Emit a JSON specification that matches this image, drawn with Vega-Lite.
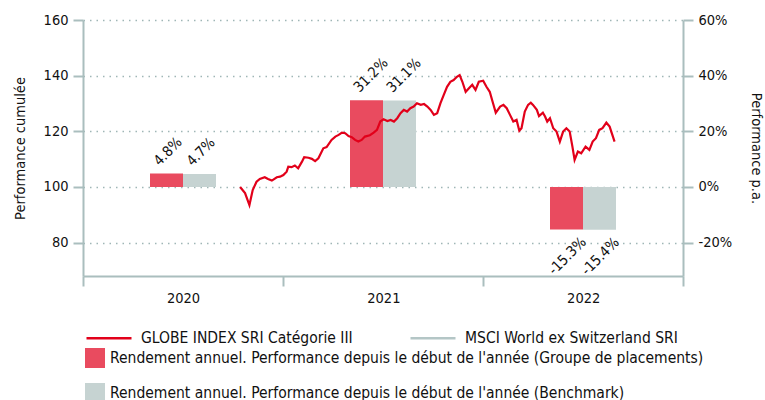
{
  "$schema": "https://vega.github.io/schema/vega-lite/v6.json",
  "width": 600,
  "height": 256,
  "autosize": {"type": "none"},
  "padding": {"left": 83, "top": 20, "right": 82, "bottom": 124},
  "config": {
    "font": "DejaVu Sans Condensed",
    "view": {"stroke": null},
    "axis": {
      "domainColor": "#aabebe",
      "domainWidth": 2,
      "tickColor": "#aabebe",
      "tickWidth": 2,
      "tickSize": 10,
      "labelFontSize": 14.5,
      "labelColor": "#111111",
      "titleFontSize": 14.5,
      "titleFontWeight": "normal",
      "titleColor": "#111111",
      "labelPadding": 5
    },
    "legend": {"labelFontSize": 15.5, "labelColor": "#111111", "labelLimit": 1000}
  },
  "datasets": {
    "bars": [
      {"year": "2020", "series": "Rendement annuel. Performance depuis le début de l'année (Groupe de placements)", "perf": 4.8, "label": "4.8%"},
      {"year": "2020", "series": "Rendement annuel. Performance depuis le début de l'année (Benchmark)", "perf": 4.7, "label": "4.7%"},
      {"year": "2021", "series": "Rendement annuel. Performance depuis le début de l'année (Groupe de placements)", "perf": 31.2, "label": "31.2%"},
      {"year": "2021", "series": "Rendement annuel. Performance depuis le début de l'année (Benchmark)", "perf": 31.1, "label": "31.1%"},
      {"year": "2022", "series": "Rendement annuel. Performance depuis le début de l'année (Groupe de placements)", "perf": -15.3, "label": "-15.3%"},
      {"year": "2022", "series": "Rendement annuel. Performance depuis le début de l'année (Benchmark)", "perf": -15.4, "label": "-15.4%"}
    ],
    "line": [
      {"date": "2020-10-14", "value": 100.0, "series": "GLOBE INDEX SRI Catégorie III"},
      {"date": "2020-10-23", "value": 97.8, "series": "GLOBE INDEX SRI Catégorie III"},
      {"date": "2020-10-31", "value": 93.5, "series": "GLOBE INDEX SRI Catégorie III"},
      {"date": "2020-11-06", "value": 98.9, "series": "GLOBE INDEX SRI Catégorie III"},
      {"date": "2020-11-13", "value": 101.9, "series": "GLOBE INDEX SRI Catégorie III"},
      {"date": "2020-11-19", "value": 102.9, "series": "GLOBE INDEX SRI Catégorie III"},
      {"date": "2020-11-28", "value": 103.5, "series": "GLOBE INDEX SRI Catégorie III"},
      {"date": "2020-12-04", "value": 102.9, "series": "GLOBE INDEX SRI Catégorie III"},
      {"date": "2020-12-11", "value": 102.3, "series": "GLOBE INDEX SRI Catégorie III"},
      {"date": "2020-12-20", "value": 103.5, "series": "GLOBE INDEX SRI Catégorie III"},
      {"date": "2020-12-26", "value": 103.7, "series": "GLOBE INDEX SRI Catégorie III"},
      {"date": "2021-01-01", "value": 104.3, "series": "GLOBE INDEX SRI Catégorie III"},
      {"date": "2021-01-07", "value": 105.5, "series": "GLOBE INDEX SRI Catégorie III"},
      {"date": "2021-01-10", "value": 107.3, "series": "GLOBE INDEX SRI Catégorie III"},
      {"date": "2021-01-16", "value": 107.1, "series": "GLOBE INDEX SRI Catégorie III"},
      {"date": "2021-01-22", "value": 107.7, "series": "GLOBE INDEX SRI Catégorie III"},
      {"date": "2021-01-28", "value": 106.7, "series": "GLOBE INDEX SRI Catégorie III"},
      {"date": "2021-02-04", "value": 109.1, "series": "GLOBE INDEX SRI Catégorie III"},
      {"date": "2021-02-08", "value": 110.7, "series": "GLOBE INDEX SRI Catégorie III"},
      {"date": "2021-02-16", "value": 110.5, "series": "GLOBE INDEX SRI Catégorie III"},
      {"date": "2021-02-22", "value": 110.1, "series": "GLOBE INDEX SRI Catégorie III"},
      {"date": "2021-02-28", "value": 109.3, "series": "GLOBE INDEX SRI Catégorie III"},
      {"date": "2021-03-06", "value": 110.3, "series": "GLOBE INDEX SRI Catégorie III"},
      {"date": "2021-03-15", "value": 113.9, "series": "GLOBE INDEX SRI Catégorie III"},
      {"date": "2021-03-21", "value": 114.3, "series": "GLOBE INDEX SRI Catégorie III"},
      {"date": "2021-03-30", "value": 116.9, "series": "GLOBE INDEX SRI Catégorie III"},
      {"date": "2021-04-06", "value": 118.1, "series": "GLOBE INDEX SRI Catégorie III"},
      {"date": "2021-04-12", "value": 118.7, "series": "GLOBE INDEX SRI Catégorie III"},
      {"date": "2021-04-18", "value": 119.5, "series": "GLOBE INDEX SRI Catégorie III"},
      {"date": "2021-04-24", "value": 119.3, "series": "GLOBE INDEX SRI Catégorie III"},
      {"date": "2021-04-30", "value": 118.3, "series": "GLOBE INDEX SRI Catégorie III"},
      {"date": "2021-05-06", "value": 117.9, "series": "GLOBE INDEX SRI Catégorie III"},
      {"date": "2021-05-12", "value": 116.9, "series": "GLOBE INDEX SRI Catégorie III"},
      {"date": "2021-05-18", "value": 116.3, "series": "GLOBE INDEX SRI Catégorie III"},
      {"date": "2021-05-24", "value": 116.9, "series": "GLOBE INDEX SRI Catégorie III"},
      {"date": "2021-05-30", "value": 118.1, "series": "GLOBE INDEX SRI Catégorie III"},
      {"date": "2021-06-08", "value": 118.6, "series": "GLOBE INDEX SRI Catégorie III"},
      {"date": "2021-06-15", "value": 119.5, "series": "GLOBE INDEX SRI Catégorie III"},
      {"date": "2021-06-21", "value": 120.5, "series": "GLOBE INDEX SRI Catégorie III"},
      {"date": "2021-06-27", "value": 123.5, "series": "GLOBE INDEX SRI Catégorie III"},
      {"date": "2021-07-03", "value": 124.3, "series": "GLOBE INDEX SRI Catégorie III"},
      {"date": "2021-07-10", "value": 123.7, "series": "GLOBE INDEX SRI Catégorie III"},
      {"date": "2021-07-16", "value": 124.1, "series": "GLOBE INDEX SRI Catégorie III"},
      {"date": "2021-07-22", "value": 123.5, "series": "GLOBE INDEX SRI Catégorie III"},
      {"date": "2021-07-28", "value": 124.7, "series": "GLOBE INDEX SRI Catégorie III"},
      {"date": "2021-08-03", "value": 126.5, "series": "GLOBE INDEX SRI Catégorie III"},
      {"date": "2021-08-09", "value": 127.7, "series": "GLOBE INDEX SRI Catégorie III"},
      {"date": "2021-08-15", "value": 127.1, "series": "GLOBE INDEX SRI Catégorie III"},
      {"date": "2021-08-21", "value": 128.3, "series": "GLOBE INDEX SRI Catégorie III"},
      {"date": "2021-08-27", "value": 128.9, "series": "GLOBE INDEX SRI Catégorie III"},
      {"date": "2021-09-02", "value": 130.1, "series": "GLOBE INDEX SRI Catégorie III"},
      {"date": "2021-09-09", "value": 129.5, "series": "GLOBE INDEX SRI Catégorie III"},
      {"date": "2021-09-15", "value": 129.8, "series": "GLOBE INDEX SRI Catégorie III"},
      {"date": "2021-09-21", "value": 128.9, "series": "GLOBE INDEX SRI Catégorie III"},
      {"date": "2021-09-27", "value": 127.7, "series": "GLOBE INDEX SRI Catégorie III"},
      {"date": "2021-10-03", "value": 125.9, "series": "GLOBE INDEX SRI Catégorie III"},
      {"date": "2021-10-09", "value": 126.5, "series": "GLOBE INDEX SRI Catégorie III"},
      {"date": "2021-10-15", "value": 130.1, "series": "GLOBE INDEX SRI Catégorie III"},
      {"date": "2021-10-21", "value": 133.1, "series": "GLOBE INDEX SRI Catégorie III"},
      {"date": "2021-10-27", "value": 136.0, "series": "GLOBE INDEX SRI Catégorie III"},
      {"date": "2021-11-02", "value": 137.8, "series": "GLOBE INDEX SRI Catégorie III"},
      {"date": "2021-11-08", "value": 138.4, "series": "GLOBE INDEX SRI Catégorie III"},
      {"date": "2021-11-14", "value": 139.6, "series": "GLOBE INDEX SRI Catégorie III"},
      {"date": "2021-11-19", "value": 140.2, "series": "GLOBE INDEX SRI Catégorie III"},
      {"date": "2021-11-24", "value": 137.8, "series": "GLOBE INDEX SRI Catégorie III"},
      {"date": "2021-11-30", "value": 134.2, "series": "GLOBE INDEX SRI Catégorie III"},
      {"date": "2021-12-06", "value": 135.5, "series": "GLOBE INDEX SRI Catégorie III"},
      {"date": "2021-12-12", "value": 136.7, "series": "GLOBE INDEX SRI Catégorie III"},
      {"date": "2021-12-18", "value": 134.9, "series": "GLOBE INDEX SRI Catégorie III"},
      {"date": "2021-12-24", "value": 137.8, "series": "GLOBE INDEX SRI Catégorie III"},
      {"date": "2022-01-01", "value": 138.2, "series": "GLOBE INDEX SRI Catégorie III"},
      {"date": "2022-01-07", "value": 136.0, "series": "GLOBE INDEX SRI Catégorie III"},
      {"date": "2022-01-13", "value": 134.2, "series": "GLOBE INDEX SRI Catégorie III"},
      {"date": "2022-01-19", "value": 130.1, "series": "GLOBE INDEX SRI Catégorie III"},
      {"date": "2022-01-24", "value": 126.7, "series": "GLOBE INDEX SRI Catégorie III"},
      {"date": "2022-02-01", "value": 128.9, "series": "GLOBE INDEX SRI Catégorie III"},
      {"date": "2022-02-07", "value": 129.5, "series": "GLOBE INDEX SRI Catégorie III"},
      {"date": "2022-02-13", "value": 128.3, "series": "GLOBE INDEX SRI Catégorie III"},
      {"date": "2022-02-19", "value": 125.9, "series": "GLOBE INDEX SRI Catégorie III"},
      {"date": "2022-02-25", "value": 123.5, "series": "GLOBE INDEX SRI Catégorie III"},
      {"date": "2022-03-03", "value": 124.1, "series": "GLOBE INDEX SRI Catégorie III"},
      {"date": "2022-03-08", "value": 120.2, "series": "GLOBE INDEX SRI Catégorie III"},
      {"date": "2022-03-12", "value": 121.1, "series": "GLOBE INDEX SRI Catégorie III"},
      {"date": "2022-03-18", "value": 127.1, "series": "GLOBE INDEX SRI Catégorie III"},
      {"date": "2022-03-24", "value": 129.5, "series": "GLOBE INDEX SRI Catégorie III"},
      {"date": "2022-03-29", "value": 130.3, "series": "GLOBE INDEX SRI Catégorie III"},
      {"date": "2022-04-02", "value": 129.5, "series": "GLOBE INDEX SRI Catégorie III"},
      {"date": "2022-04-09", "value": 127.7, "series": "GLOBE INDEX SRI Catégorie III"},
      {"date": "2022-04-13", "value": 125.5, "series": "GLOBE INDEX SRI Catégorie III"},
      {"date": "2022-04-20", "value": 126.7, "series": "GLOBE INDEX SRI Catégorie III"},
      {"date": "2022-04-24", "value": 125.3, "series": "GLOBE INDEX SRI Catégorie III"},
      {"date": "2022-04-28", "value": 123.5, "series": "GLOBE INDEX SRI Catégorie III"},
      {"date": "2022-05-03", "value": 124.7, "series": "GLOBE INDEX SRI Catégorie III"},
      {"date": "2022-05-09", "value": 121.1, "series": "GLOBE INDEX SRI Catégorie III"},
      {"date": "2022-05-15", "value": 119.9, "series": "GLOBE INDEX SRI Catégorie III"},
      {"date": "2022-05-21", "value": 116.3, "series": "GLOBE INDEX SRI Catégorie III"},
      {"date": "2022-05-27", "value": 119.9, "series": "GLOBE INDEX SRI Catégorie III"},
      {"date": "2022-06-02", "value": 121.1, "series": "GLOBE INDEX SRI Catégorie III"},
      {"date": "2022-06-08", "value": 119.9, "series": "GLOBE INDEX SRI Catégorie III"},
      {"date": "2022-06-13", "value": 114.5, "series": "GLOBE INDEX SRI Catégorie III"},
      {"date": "2022-06-17", "value": 109.7, "series": "GLOBE INDEX SRI Catégorie III"},
      {"date": "2022-06-23", "value": 112.7, "series": "GLOBE INDEX SRI Catégorie III"},
      {"date": "2022-06-29", "value": 112.1, "series": "GLOBE INDEX SRI Catégorie III"},
      {"date": "2022-07-07", "value": 114.5, "series": "GLOBE INDEX SRI Catégorie III"},
      {"date": "2022-07-14", "value": 113.3, "series": "GLOBE INDEX SRI Catégorie III"},
      {"date": "2022-07-20", "value": 116.3, "series": "GLOBE INDEX SRI Catégorie III"},
      {"date": "2022-07-26", "value": 117.5, "series": "GLOBE INDEX SRI Catégorie III"},
      {"date": "2022-08-01", "value": 120.5, "series": "GLOBE INDEX SRI Catégorie III"},
      {"date": "2022-08-07", "value": 121.1, "series": "GLOBE INDEX SRI Catégorie III"},
      {"date": "2022-08-14", "value": 123.1, "series": "GLOBE INDEX SRI Catégorie III"},
      {"date": "2022-08-20", "value": 121.7, "series": "GLOBE INDEX SRI Catégorie III"},
      {"date": "2022-08-29", "value": 116.3, "series": "GLOBE INDEX SRI Catégorie III"}
    ]
  },
  "layer": [
    {
      "data": {"name": "bars"},
      "encoding": {
        "x": {"field": "year", "type": "nominal", "scale": {"domain": ["2020", "2021", "2022"], "paddingInner": 0.67, "paddingOuter": 0.335}, "axis": null},
        "xOffset": {"field": "series", "type": "nominal", "scale": {"domain": ["Rendement annuel. Performance depuis le début de l'année (Groupe de placements)", "Rendement annuel. Performance depuis le début de l'année (Benchmark)"], "paddingInner": 0, "paddingOuter": 0}},
        "y": {
          "field": "perf", "type": "quantitative",
          "scale": {"domain": [-32, 60], "nice": false, "zero": false},
          "axis": {"orient": "right", "values": [-20, 0, 20, 40, 60], "labelExpr": "datum.value + '%'", "grid": false, "title": "Performance p.a.", "titleAngle": 90, "titlePadding": 17}
        }
      },
      "layer": [
        {
          "mark": {"type": "bar"},
          "encoding": {
            "color": {
              "field": "series", "type": "nominal",
              "scale": {"domain": ["Rendement annuel. Performance depuis le début de l'année (Groupe de placements)", "Rendement annuel. Performance depuis le début de l'année (Benchmark)"], "range": ["#e94b5f", "#c6d3d2"]},
              "legend": {"orient": "none", "legendX": 2, "legendY": 328, "direction": "vertical", "title": null, "symbolType": "square", "symbolSize": 400, "symbolStrokeWidth": 0, "labelOffset": 5, "rowPadding": 15, "padding": 0}
            }
          }
        },
        {
          "transform": [{"filter": "datum.perf > 0"}],
          "mark": {"type": "text", "angle": -45, "align": "left", "baseline": "alphabetic", "dx": 0, "dy": -10, "fontSize": 14.5, "color": "#111111"},
          "encoding": {"text": {"field": "label"}}
        },
        {
          "transform": [{"filter": "datum.perf < 0"}],
          "mark": {"type": "text", "angle": -45, "align": "right", "baseline": "alphabetic", "dx": 5, "dy": 24, "fontSize": 14.5, "color": "#111111"},
          "encoding": {"text": {"field": "label"}}
        }
      ]
    },
    {
      "data": {"name": "line"},
      "encoding": {
        "y": {
          "field": "value", "type": "quantitative",
          "scale": {"domain": [68, 160], "nice": false, "zero": false},
          "axis": {"orient": "left", "values": [80, 100, 120, 140, 160], "grid": true, "gridColor": "#9fb6b6", "gridDash": [1.5, 5], "gridWidth": 1.5, "title": "Performance cumulée", "titlePadding": 16}
        }
      },
      "layer": [
        {
          "data": {"values": [{}]},
          "mark": {"type": "rule", "color": "#c8c8c8", "strokeWidth": 1.5},
          "encoding": {"y": {"datum": 100}}
        },
        {
          "mark": {"type": "line", "strokeWidth": 2.2},
          "encoding": {
            "x": {
              "field": "date", "type": "temporal",
              "scale": {"domain": [{"year": 2020, "month": 1, "date": 1, "utc": true}, {"year": 2023, "month": 1, "date": 1, "utc": true}]},
              "axis": {
                "orient": "bottom",
                "values": [{"year": 2020, "month": 1, "date": 1, "utc": true}, {"year": 2021, "month": 1, "date": 1, "utc": true}, {"year": 2022, "month": 1, "date": 1, "utc": true}, {"year": 2023, "month": 1, "date": 1, "utc": true}],
                "labelExpr": "utcyear(datum.value) < 2023 ? utcFormat(datum.value, '%Y') : ''",
                "labelOffset": 100,
                "labelAlign": "center",
                "grid": false,
                "title": null
              }
            },
            "stroke": {
              "field": "series", "type": "nominal",
              "scale": {"domain": ["GLOBE INDEX SRI Catégorie III", "MSCI World ex Switzerland SRI"], "range": ["#e2001a", "#b4c6c6"]},
              "legend": {"orient": "none", "legendX": 2, "legendY": 294, "direction": "horizontal", "title": null, "symbolType": "stroke", "symbolSize": 2025, "symbolStrokeWidth": 2.5, "labelOffset": 8, "columnPadding": 52, "padding": 0}
            }
          }
        }
      ]
    }
  ],
  "resolve": {
    "scale": {"x": "independent", "y": "independent", "color": "independent", "stroke": "independent"},
    "axis": {"x": "independent", "y": "independent"}
  }
}
